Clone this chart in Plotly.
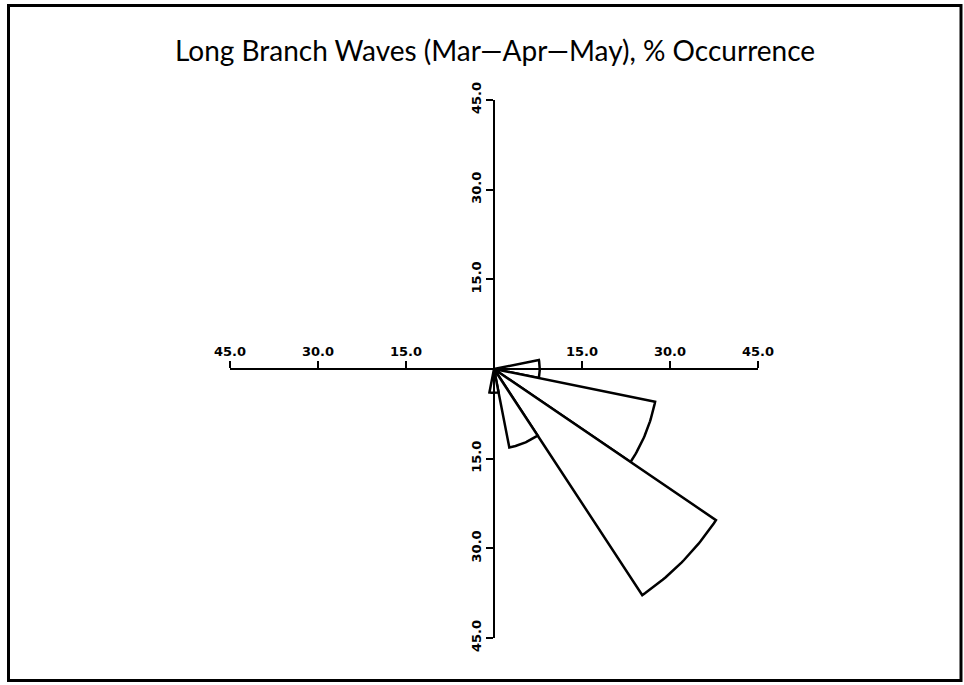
import numpy as np
import plotly.graph_objects as go

# wave rose, % occurrence by direction (compass degrees, clockwise from north)
directions = ['E', 'ESE', 'SE', 'SSE', 'S']
bearings = [90.0, 112.5, 135.0, 157.5, 180.0]
occurrence = [7.8, 28.0, 45.5, 13.4, 4.0]

tick_vals = [-45, -30, -15, 15, 30, 45]
tick_text = ['45.0', '30.0', '15.0', '15.0', '30.0', '45.0']

SECTOR_WIDTH = 22.5

# plot area in pixels
L, R, T, B = 230, 206, 100, 47
PW, PH = 964 - L - R, 685 - T - B


def sector(bearing, radius, n=30):
    a = np.radians(np.linspace(bearing - SECTOR_WIDTH / 2, bearing + SECTOR_WIDTH / 2, n))
    x = np.concatenate([[0], radius * np.sin(a), [0]])
    y = np.concatenate([[0], radius * np.cos(a), [0]])
    return x, y


fig = go.Figure()
for name, b, v in zip(directions, bearings, occurrence):
    x, y = sector(b, v)
    fig.add_trace(go.Scatter(
        x=x, y=y,
        mode='lines',
        fill='toself',
        fillcolor='white',
        line=dict(color='black', width=2.5),
        name=name,
        hoverinfo='name',
    ))

axis_font = dict(family='DejaVu Sans', size=13, color='black', weight='bold')

fig.update_layout(
    width=964,
    height=685,
    margin=dict(l=L, r=R, t=T, b=B),
    paper_bgcolor='white',
    plot_bgcolor='white',
    showlegend=False,
    title=dict(
        text='Long Branch Waves (Mar\u2014Apr\u2014May), % Occurrence',
        x=495 / 964, xanchor='center',
        y=1 - 51 / 685, yanchor='middle',
        font=dict(family='Lato', size=28, color='black'),
    ),
    xaxis=dict(
        range=[-45, 45],
        anchor='free', position=0.5, side='top',
        showline=True, linecolor='black', linewidth=2,
        ticks='outside', ticklen=7, tickwidth=2, tickcolor='black',
        tickvals=tick_vals, ticktext=tick_text,
        tickfont=axis_font,
        showgrid=False, zeroline=False,
    ),
    yaxis=dict(
        range=[-45, 45],
        anchor='free', position=0.5, side='left',
        showline=True, linecolor='black', linewidth=2,
        ticks='outside', ticklen=7, tickwidth=2, tickcolor='black',
        tickvals=tick_vals, ticktext=tick_text,
        tickangle=-90,
        tickfont=axis_font,
        showgrid=False, zeroline=False,
    ),
    shapes=[dict(
        type='rect', xref='paper', yref='paper',
        x0=(8.5 - L) / PW, x1=(961 - L) / PW,
        y0=(685 - B - 680.5) / PH, y1=(685 - B - 5.5) / PH,
        line=dict(color='black', width=3),
        layer='below',
    )],
)

fig.write_html('out.html', config={'displayModeBar': False},
               post_script="document.body.style.margin='0';")
